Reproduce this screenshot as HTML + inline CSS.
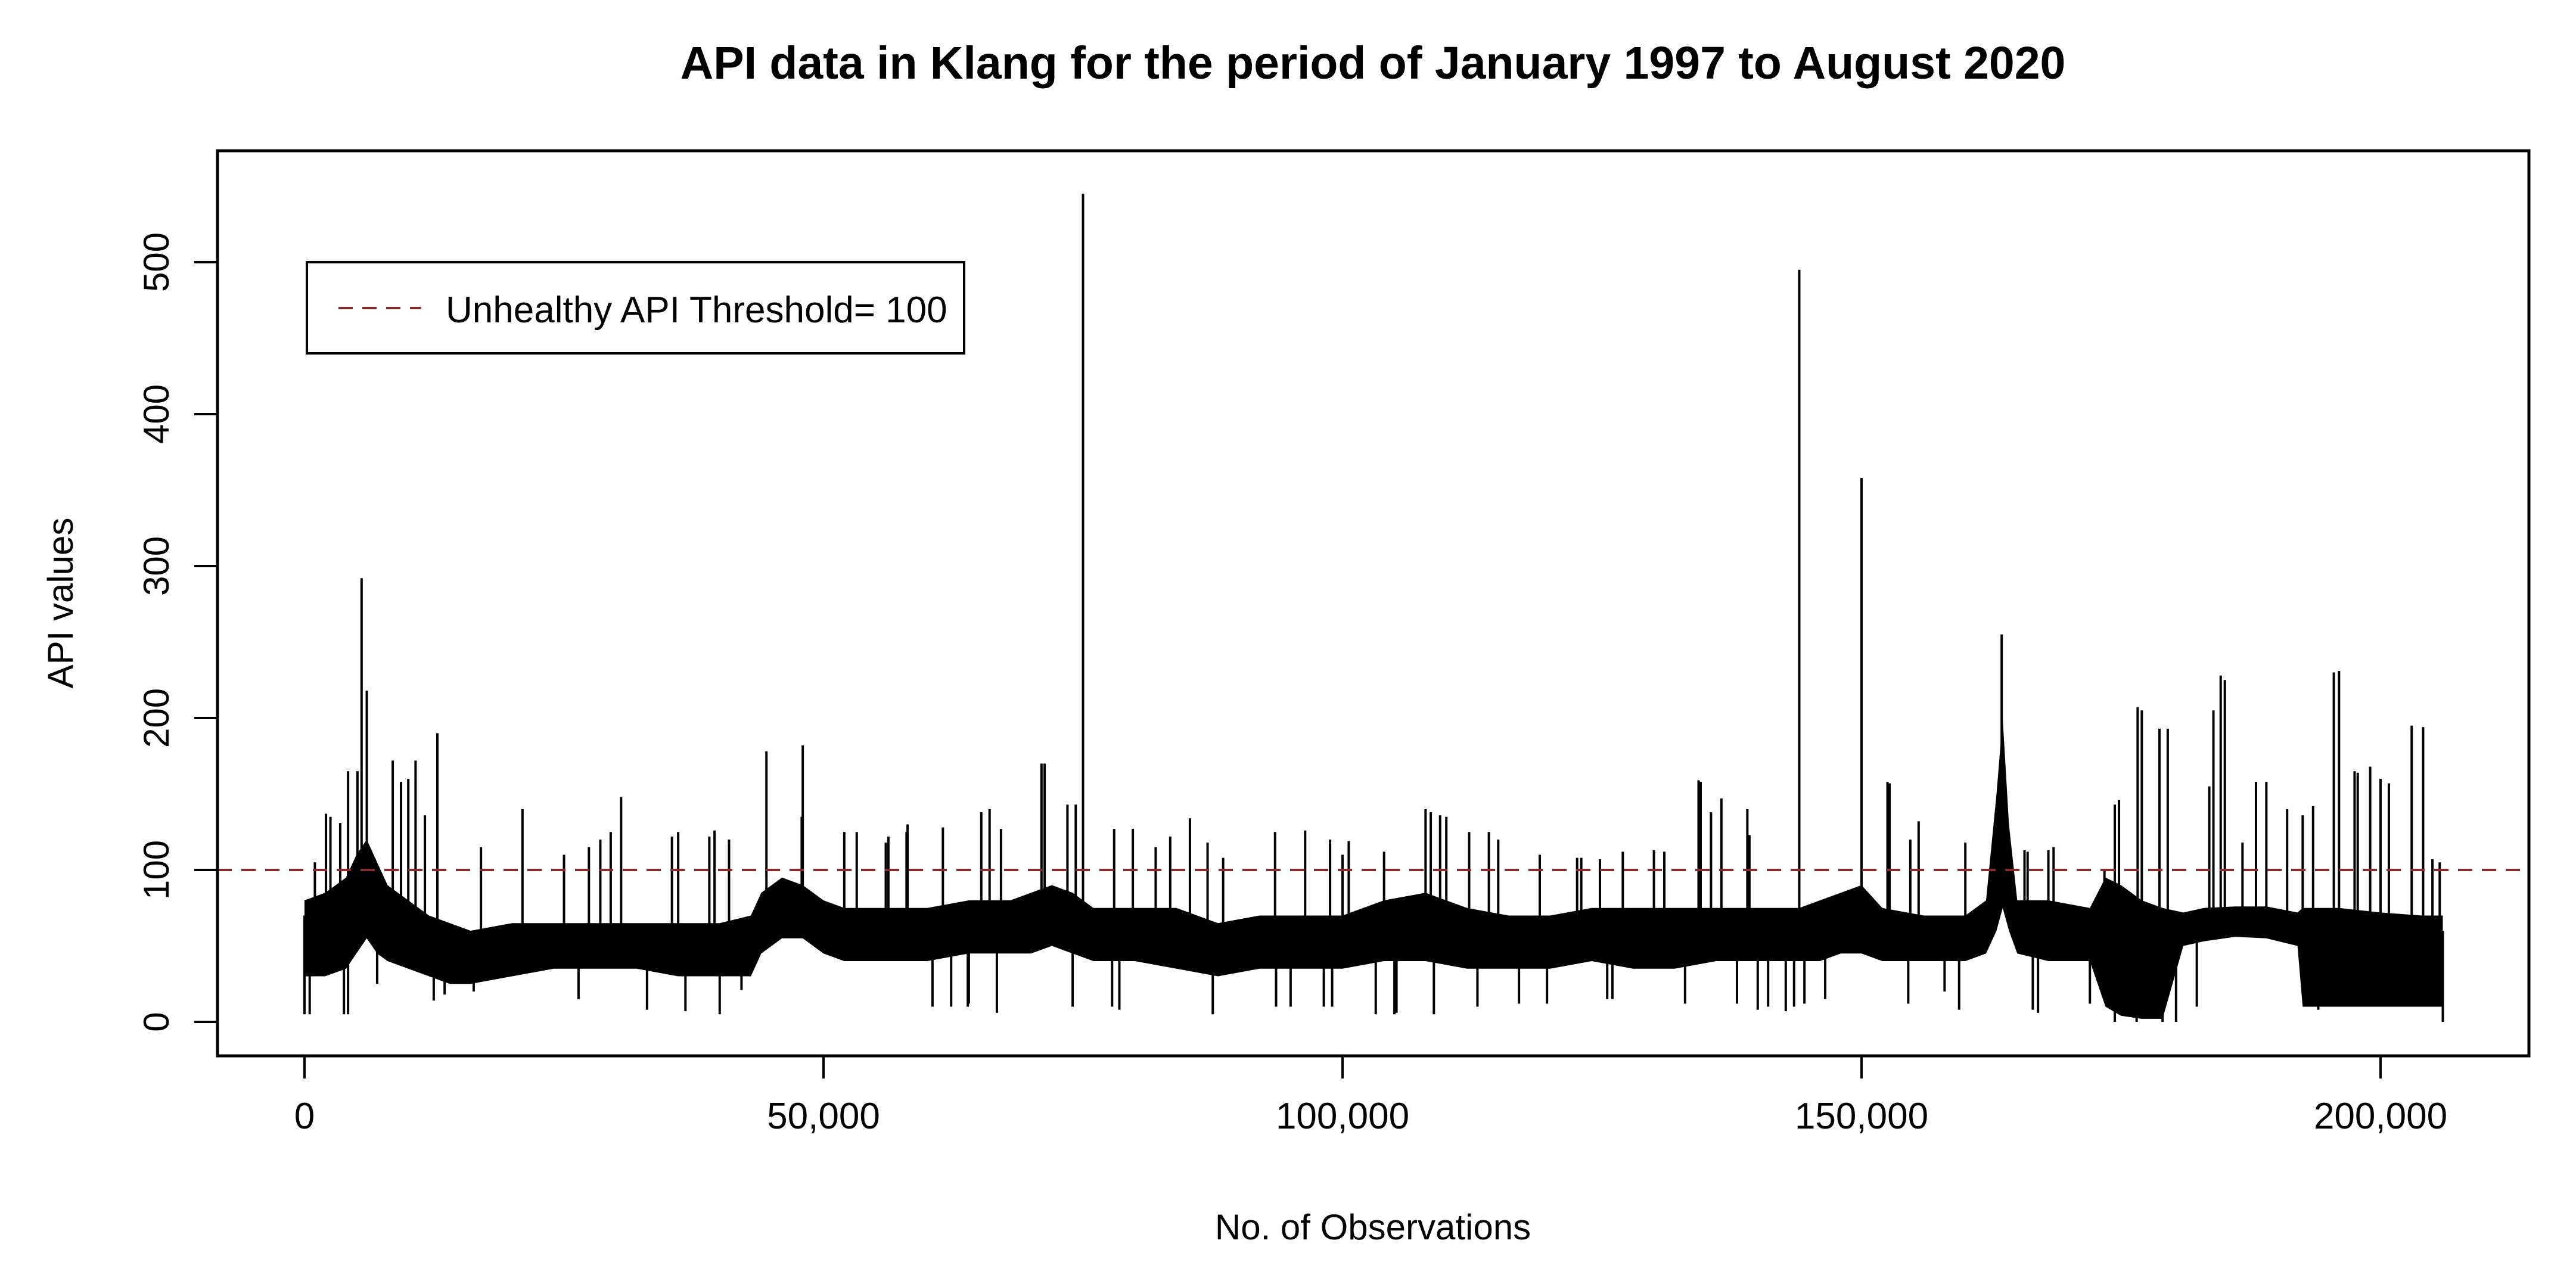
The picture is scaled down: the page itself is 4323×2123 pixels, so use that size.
<!DOCTYPE html>
<html><head><meta charset="utf-8"><style>
html,body{margin:0;padding:0;background:#fff;}
svg{display:block;font-family:"Liberation Sans",Arial,sans-serif;}
</style></head><body>
<svg id="chart" width="4323" height="2123" viewBox="0 0 4323 2123" xmlns="http://www.w3.org/2000/svg">
<rect x="0" y="0" width="4323" height="2123" fill="#fff"/>
<text x="2304" y="132" font-size="77" font-weight="bold" text-anchor="middle">API data in Klang for the period of January 1997 to August 2020</text>
<g id="series"></g>
<line id="thr" x1="365" x2="4244" stroke="#8b2a2a" stroke-width="4" stroke-dasharray="24,16"/>
<rect x="365" y="253" width="3879" height="1519" fill="none" stroke="#000" stroke-width="5"/>
<g id="xaxis"></g>
<g id="yaxis"></g>
<text x="2304" y="2080" font-size="60" text-anchor="middle">No. of Observations</text>
<text x="0" y="0" font-size="60" text-anchor="middle" transform="translate(122,1012) rotate(-90)">API values</text>
<g>
<rect x="515" y="440" width="1103" height="153" fill="#fff" stroke="#000" stroke-width="4"/>
<line x1="568" x2="707" y1="517" y2="517" stroke="#8b2a2a" stroke-width="4" stroke-dasharray="24,16"/>
<text x="748" y="541" font-size="62">Unhealthy API Threshold= 100</text>
</g>
</svg>
<script>
// band (dense body) of the series
const bandObs = [0,2000,4000,5000,6000,7000,8000,10000,12000,14000,16000,20000,24000,28000,32000,36000,40000,43000,44000,46000,48000,50000,52000,56000,60000,64000,68000,70000,72000,74000,76000,80000,84000,88000,92000,96000,100000,104000,108000,112000,116000,120000,124000,128000,132000,136000,140000,144000,146000,148000,150000,152000,156000,160000,162000,163000,163600,164200,165000,168000,172000,173500,175000,177000,179000,181000,183000,186000,189000,192000,192500,196000,200000,204000,206000];
const bandLo = [30,30,35,45,55,45,40,35,30,25,25,30,35,35,35,30,30,30,45,55,55,45,40,40,40,45,45,45,50,45,40,40,35,30,35,35,35,40,40,35,35,35,40,35,35,40,40,40,40,45,45,40,40,40,45,60,75,60,45,40,40,10,4,2,2,50,53,56,55,50,10,10,10,10,10];
const bandHi = [80,85,95,110,120,105,90,80,70,65,60,65,65,65,65,65,65,70,85,95,90,80,75,75,75,80,80,85,90,85,75,75,75,65,70,70,70,80,85,75,70,70,75,75,75,75,75,75,80,85,90,75,70,70,80,150,200,130,80,80,75,95,90,80,75,72,75,76,76,72,75,75,72,70,70];
// upward spikes
const spikeObs = [1000,2070,2500,3440,4200,5100,5500,6000,8500,9300,10000,10700,11600,12800,17000,21000,25000,27400,28500,29500,30500,35400,36000,39000,39500,40900,44500,47900,48000,52000,53200,56000,56250,58000,58100,61500,65200,66000,67100,71000,71300,73500,74300,75000,78000,79800,82000,83400,85300,87000,88500,93500,96400,98800,100000,100600,104000,108000,108500,109400,110000,112200,114100,115000,119000,122600,123000,124800,127000,130000,131000,134300,134500,135500,136500,139000,139200,144000,150000,152500,152700,154700,155500,160000,163500,165700,166000,168000,168500,173400,174400,174800,176600,177000,178700,179500,183500,183900,184600,185000,186700,188000,189000,191000,192500,193500,195500,196000,197500,197800,199000,200000,200800,203000,204100,205000,205700];
const spikeVal = [105,137,135,131,165,165,292,218,172,158,160,172,136,190,115,140,110,115,120,125,148,122,125,122,126,120,178,135,182,125,125,118,122,125,130,128,138,140,127,170,170,143,143,545,127,127,115,122,134,118,108,125,126,120,110,119,112,140,138,136,135,125,125,120,110,108,108,107,112,113,112,159,158,138,147,140,123,495,358,158,157,120,132,118,255,113,112,113,115,100,143,146,207,205,193,193,155,205,228,225,118,158,158,140,136,142,230,231,165,164,168,160,157,195,194,107,105];
// downward dips
const dipObs = [0,500,3800,4200,7000,12450,13500,16300,26400,33000,36700,40000,42100,60500,62300,63900,64000,66700,74000,77800,78500,87500,93600,95000,98200,99000,103200,105000,105200,108800,113000,117000,119700,125500,126000,133000,138000,140000,141000,142700,143500,144500,146500,154500,158000,159400,166500,167000,172000,174400,176500,179000,180300,182300,194000,206000];
const dipVal = [5,5,5,5,25,14,18,20,15,8,7,5,21,10,10,10,12,6,10,10,8,5,10,10,10,10,5,5,6,5,10,12,12,15,15,12,12,8,10,7,10,12,15,12,20,8,8,6,12,0,0,0,0,10,8,0];
const xTicks = [0,50000,100000,150000,200000];
const xTickLabels = ["0","50,000","100,000","150,000","200,000"];
const yTicks = [0,100,200,300,400,500];
const threshold = [100];

const NS = "http://www.w3.org/2000/svg";
function xs(v){ return 511 + v * (3995 - 511) / 200000; }
function ys(v){ return 1715 - v * (1715 - 440) / 500; }
function mk(tag, attrs, parent){ const e=document.createElementNS(NS,tag); for(const k in attrs) e.setAttribute(k,attrs[k]); parent.appendChild(e); return e; }

const series = document.getElementById('series');
let pts = [];
for (let i=0;i<bandObs.length;i++) pts.push(xs(bandObs[i]).toFixed(1)+","+ys(bandHi[i]).toFixed(1));
for (let i=bandObs.length-1;i>=0;i--) pts.push(xs(bandObs[i]).toFixed(1)+","+ys(bandLo[i]).toFixed(1));
const band = mk('polygon',{points:pts.join(' '),fill:'#000'},series);



function bandAt(o, arr){
  for (let i=0;i<bandObs.length-1;i++){
    if (o>=bandObs[i] && o<=bandObs[i+1]){
      const t=(o-bandObs[i])/(bandObs[i+1]-bandObs[i]);
      return arr[i]+(arr[i+1]-arr[i])*t;
    }
  }
  return arr[arr.length-1];
}
for (let i=0;i<spikeObs.length;i++){
  const l = mk('line',{x1:xs(spikeObs[i]),x2:xs(spikeObs[i]),y1:ys(bandAt(spikeObs[i],bandLo)+10),y2:ys(spikeVal[i]),stroke:'#000','stroke-width':4},series);
  
  
}
for (let i=0;i<dipObs.length;i++){
  const l = mk('line',{x1:xs(dipObs[i]),x2:xs(dipObs[i]),y1:ys(bandAt(dipObs[i],bandHi)-10),y2:ys(dipVal[i]),stroke:'#000','stroke-width':4},series);
  
  
}

const thr = document.getElementById('thr');
thr.setAttribute('y1', ys(threshold[0]));
thr.setAttribute('y2', ys(threshold[0]));

const xa = document.getElementById('xaxis');
for (let i=0;i<xTicks.length;i++){
  const x = xs(xTicks[i]);
  const t = mk('line',{x1:x,x2:x,y1:1772,y2:1810,stroke:'#000','stroke-width':4},xa);
  
  
  const lb = mk('text',{x:x,y:1894,'font-size':62,'text-anchor':'middle'},xa);
  lb.textContent = xTickLabels[i];
  
  
}
const ya = document.getElementById('yaxis');
for (let i=0;i<yTicks.length;i++){
  const y = ys(yTicks[i]);
  const t = mk('line',{x1:326,x2:365,y1:y,y2:y,stroke:'#000','stroke-width':4},ya);
  
  
  const lb = mk('text',{x:0,y:0,'font-size':60,'text-anchor':'middle',transform:'translate(283,'+y+') rotate(-90)'},ya);
  lb.textContent = String(yTicks[i]);
  
  
}
</script>
</body></html>
